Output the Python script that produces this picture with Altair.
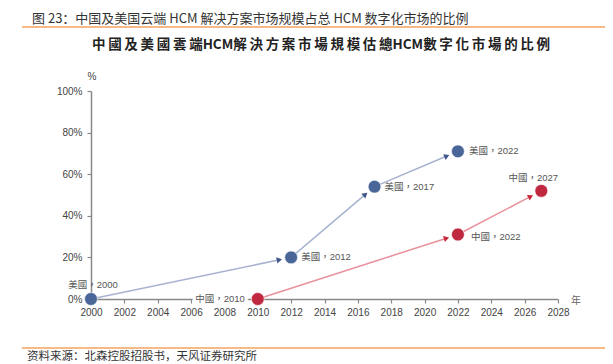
import math
import altair as alt
import pandas as pd

# ---- data ----
us_years = [2000, 2012, 2017, 2022]
us_values = [0, 20, 54, 71]
cn_years = [2010, 2022, 2027]
cn_values = [0, 31, 52]
x_ticks = list(range(2000, 2029, 2))
y_ticks = [0, 20, 40, 60, 80, 100]

header = "图 23：中国及美国云端 HCM 解决方案市场规模占总 HCM 数字化市场的比例"
title_raw = "中國及美國雲端HCM解決方案市場規模估總HCM數字化市場的比例"
source = "资料来源：北森控股招股书，天风证券研究所"

W, H = 467, 208
X0, X1 = 2000, 2028

US_DOT, CN_DOT = "#4a6699", "#c0283f"
US_LINE, CN_LINE = "#a6b2cf", "#e8909c"
US_HEAD, CN_HEAD = "#3f5789", "#c8283c"
LABEL_FONT = "Liberation Sans, Noto Sans CJK TC"

# thin spaces between consecutive CJK chars in the title (letter spacing)
def spaced(s):
    out = ""
    for i, ch in enumerate(s):
        out += ch
        if i + 1 < len(s) and ord(ch) > 0x2E80 and ord(s[i + 1]) > 0x2E80:
            out += "\u2009"
    return out

title = spaced(title_raw)

points = pd.DataFrame(
    {"series": ["美國"] * len(us_years) + ["中國"] * len(cn_years),
     "year": us_years + cn_years,
     "value": us_values + cn_values}
)
points["label"] = points["series"] + "，" + points["year"].astype(str)

def px(x):
    return (x - X0) * W / (X1 - X0)

def py(v):
    return H - v * H / 100

def to_data(ppx, ppy):
    return X0 + ppx * (X1 - X0) / W, (H - ppy) * 100 / H

segs = []
for s, ys, vs in [("美國", us_years, us_values), ("中國", cn_years, cn_values)]:
    for i in range(len(ys) - 1):
        ax, ay = px(ys[i]), py(vs[i])
        bx, by = px(ys[i + 1]), py(vs[i + 1])
        dx, dy = bx - ax, by - ay
        L = math.hypot(dx, dy)
        ux, uy = dx / L, dy / L
        hx, hy = to_data(bx - 12 * ux, by - 12 * uy)
        ang = math.degrees(math.atan2(dy, dx)) % 360
        segs.append({"series": s, "x0": ys[i], "y0": vs[i], "hx": hx, "hy": hy, "angle": ang})
segs = pd.DataFrame(segs)

xs = alt.Scale(domain=[X0, X1], nice=False, zero=False)
ys_ = alt.Scale(domain=[0, 100], nice=False)
SER = ["美國", "中國"]

axis_common = dict(
    title=None, grid=False, tickSize=4, labelFontSize=10, labelFont="Liberation Sans",
    labelColor="#444", domainColor="#888", tickColor="#888",
    domainWidth=1.5, tickWidth=1.2, labelOverlap=False,
)
X_AXIS = alt.Axis(values=x_ticks, format="d", labelPadding=4, labelFlush=False, **axis_common)
Y_AXIS = alt.Axis(values=y_ticks, labelExpr="datum.value + '%'", labelPadding=5, **axis_common)

def X(f):
    return alt.X(f, scale=xs, axis=X_AXIS)

def Y(f):
    return alt.Y(f, scale=ys_, axis=Y_AXIS)

lines = alt.Chart(segs).mark_rule(strokeWidth=1.5).encode(
    x=X("x0:Q"), y=Y("y0:Q"), x2="hx:Q", y2="hy:Q",
    color=alt.Color("series:N", scale=alt.Scale(domain=SER, range=[US_LINE, CN_LINE]), legend=None),
)

heads = alt.Chart(segs).mark_point(shape="triangle-right", filled=True, size=38, opacity=1).encode(
    x=X("hx:Q"), y=Y("hy:Q"),
    angle=alt.Angle("angle:Q", scale=None),
    fill=alt.Fill("series:N", scale=alt.Scale(domain=SER, range=[US_HEAD, CN_HEAD]), legend=None),
)

dots = alt.Chart(points).mark_circle(size=165, opacity=1, stroke="white", strokeWidth=0.6).encode(
    x=X("year:Q"), y=Y("value:Q"),
    fill=alt.Fill("series:N", scale=alt.Scale(domain=SER, range=[US_DOT, CN_DOT]), legend=None),
)

# label placement (style only)
placement = {
    "美國，2000": dict(align="center", dx=2, dy=-14),
    "美國，2012": dict(align="left", dx=10, dy=0),
    "美國，2017": dict(align="left", dx=10, dy=0),
    "美國，2022": dict(align="left", dx=11, dy=0),
    "中國，2022": dict(align="left", dx=13, dy=2),
    "中國，2027": dict(align="center", dx=-8, dy=-13),
    "中國，2010": dict(align="right", dx=-13, dy=0),
}

label_layers = []
for lab, p in placement.items():
    src = alt.Chart(points).transform_filter(alt.datum.label == lab)
    enc = dict(x=X("year:Q"), y=Y("value:Q"), text="label:N")
    if lab == "中國，2010":
        label_layers.append(src.mark_text(
            font=LABEL_FONT, fontSize=9.5, color="white", stroke="white", strokeWidth=7,
            baseline="middle", **p).encode(**enc))
    label_layers.append(src.mark_text(
        font=LABEL_FONT, fontSize=9.5, color="#555", baseline="middle", **p).encode(**enc))

one = pd.DataFrame({"k": [0]})

def txt(text, x, y, **kw):
    return alt.Chart(one).mark_text(text=text, baseline="middle", **kw).encode(
        x=alt.value(x), y=alt.value(y))

def hrule(x1, x2, y, color, w):
    return alt.Chart(one).mark_rule(color=color, strokeWidth=w).encode(
        x=alt.value(x1), x2=alt.value(x2), y=alt.value(y))

decor = [
    txt(header, -59, -72, align="left", font="Noto Sans CJK SC", fontSize=13, color="#333"),
    hrule(-69, 530, -64, "#f5a35c", 1.5),
    txt(title, 230, -46, align="center", font="Noto Sans CJK TC", fontSize=13.5,
        fontWeight="bold", color="#222"),
    txt("%", 1, -14, align="center", font="Liberation Sans", fontSize=10, color="#444"),
    txt("年", 485, 210, align="center", font="Noto Sans CJK TC", fontSize=10, color="#666"),
    hrule(-69, 530, 257, "#f5a35c", 1.5),
    txt(source, -64, 266, align="left", font="Noto Sans CJK SC", fontSize=11.5, color="#333"),
]

chart = alt.layer(lines, heads, dots, *label_layers, *decor).resolve_scale(
    color="independent", fill="independent"
).properties(
    width=W, height=H,
    autosize=alt.AutoSizeParams(type="none"),
    padding={"left": 83, "top": 83, "right": 47, "bottom": 65},
).configure_view(stroke=None).configure_axis(labelOverlap=False)

chart.save("out.html", embed_options={"renderer": "svg", "actions": False})
